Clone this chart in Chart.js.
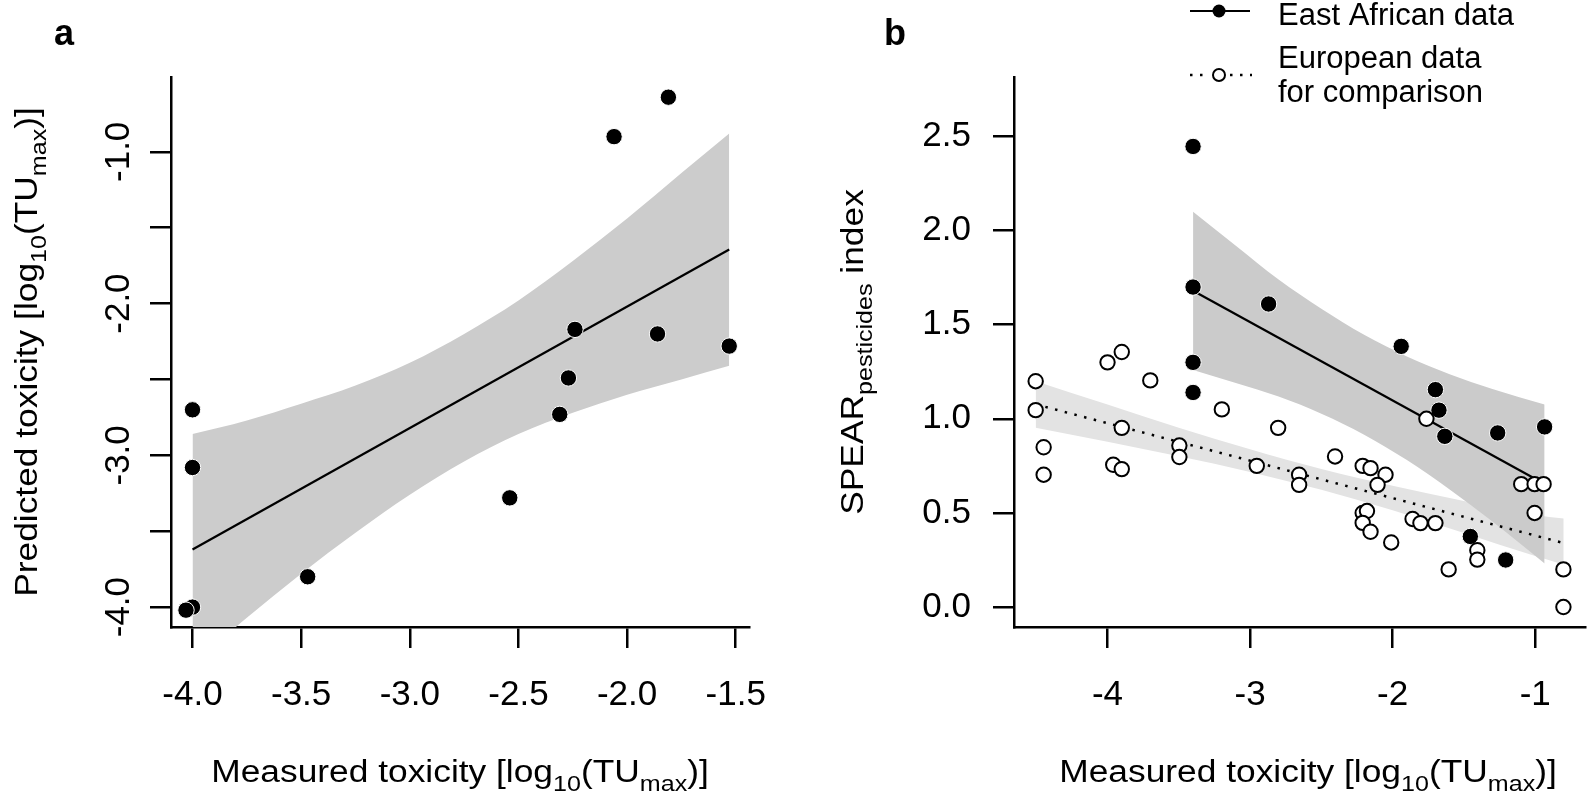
<!DOCTYPE html>
<html><head><meta charset="utf-8">
<script src="https://cdn.jsdelivr.net/npm/chart.js@4.4.1/dist/chart.umd.min.js"></script>
<style>
html,body{margin:0;padding:0;background:#fff;overflow:hidden}
#wrap{position:relative;width:1594px;height:792px;background:#fff}
.pane{position:absolute;top:0;height:792px}
</style></head><body>
<div id="wrap">
  <div class="pane" style="left:0;width:800px"><canvas id="ca"></canvas></div>
  <div class="pane" style="left:800px;width:794px"><canvas id="cb"></canvas></div>
</div>
<script>
// ---------- Panel a data ----------
const aMeasured  = [-1.81, -2.06, -2.24, -1.86, -1.53, -2.27, -4.00, -4.00, -2.31, -2.54, -3.47, -4.00, -4.03];
const aPredicted = [-0.64, -0.90, -2.17, -2.20, -2.28, -2.49, -2.70, -3.08, -2.73, -3.28, -3.80, -4.00, -4.02];
const aFitX = [-4.00, -1.53];
const aFitY = [-3.62, -1.644];
const aBandX     = [-4.00, -3.75, -3.50, -3.25, -3.00, -2.75, -2.50, -2.25, -2.00, -1.75, -1.53];
const aBandUpper = [-2.86, -2.77, -2.66, -2.54, -2.39, -2.20, -1.98, -1.72, -1.44, -1.14, -0.88];
const aBandLower = [-4.38, -4.07, -3.78, -3.51, -3.26, -3.04, -2.86, -2.72, -2.60, -2.50, -2.41];
const aXTicks  = [-4.0, -3.5, -3.0, -2.5, -2.0, -1.5];
const aXLabels = ['-4.0', '-3.5', '-3.0', '-2.5', '-2.0', '-1.5'];
const aYTicks  = [-4.0, -3.5, -3.0, -2.5, -2.0, -1.5, -1.0];
const aYLabels = ['-4.0', '', '-3.0', '', '-2.0', '', '-1.0'];

// ---------- Panel b data ----------
const eaX = [-3.40, -3.40, -2.87, -3.40, -1.94, -1.70, -3.40, -1.675, -1.634, -1.263, -0.934, -1.455, -1.207];
const eaY = [ 2.447, 1.70,  1.61,  1.30,  1.385, 1.155, 1.14,  1.046,  0.907,  0.925,  0.957,  0.375,  0.25];
const euX = [-4.504, -4.504, -4.448, -4.448, -4.00, -3.90, -3.70, -3.96, -3.90, -3.90, -3.496, -3.496, -3.198, -2.803,
             -2.953, -2.656, -2.656, -2.404, -2.21, -2.155, -2.05, -2.106, -2.21, -2.18, -2.21, -2.155, -2.01, -1.86,
             -1.805, -1.70, -1.763, -1.607, -1.406, -1.406, -1.098, -1.004, -0.941, -1.004, -0.802, -0.802];
const euY = [ 1.20, 1.046, 0.849, 0.703, 1.30, 1.355, 1.204, 0.756, 0.733, 0.952, 0.858, 0.797, 1.05, 0.952,
              0.75, 0.703, 0.649, 0.80, 0.75, 0.738, 0.703, 0.649, 0.50, 0.51, 0.447, 0.40, 0.343, 0.468,
              0.446, 0.446, 1.00, 0.20, 0.302, 0.252, 0.653, 0.653, 0.653, 0.50, 0.20, 0.00];
const eaFitX = [-3.40, -0.934];
const eaFitY = [1.68, 0.654];
const euFitX = [-4.504, -0.80];
const euFitY = [1.077, 0.340];
const eaBandX     = [-3.40, -3.10, -2.80, -2.50, -2.20, -1.90, -1.60, -1.30, -0.934];
const eaBandUpper = [ 2.10,  1.92,  1.74,  1.585, 1.446, 1.331, 1.237, 1.158, 1.076];
const eaBandLower = [ 1.26,  1.19,  1.118, 1.027, 0.916, 0.781, 0.625, 0.454, 0.232];
const euBandX     = [-4.504, -4.00, -3.50, -3.00, -2.50, -2.00, -1.50, -1.00, -0.80];
const euBandUpper = [ 1.20,   1.076, 0.953, 0.838, 0.733, 0.644, 0.564, 0.489, 0.470];
const euBandLower = [ 0.952,  0.878, 0.801, 0.718, 0.623, 0.514, 0.394, 0.271, 0.225];
const bXTicks  = [-4, -3, -2, -1];
const bXLabels = ['-4', '-3', '-2', '-1'];
const bYTicks  = [0, 0.5, 1.0, 1.5, 2.0, 2.5];
const bYLabels = ['0.0', '0.5', '1.0', '1.5', '2.0', '2.5'];
const legendLabels = ['East African data', ['European data', 'for comparison']];

// ---------- Titles ----------
const xTitleParts  = [['Measured toxicity [log', 0], ['10', 1], ['(TU', 0], ['max', 1], [')]', 0]];
const aYTitleParts = [['Predicted toxicity [log', 0], ['10', 1], ['(TU', 0], ['max', 1], [')]', 0]];
const bYTitleParts = [['SPEAR', 0], ['pesticides', 1], [' index', 0]];

const FONT = '"Liberation Sans", Arial, Helvetica, sans-serif';
Chart.defaults.font.family = FONT;
Chart.defaults.color = '#000';

const pts = (xs, ys) => xs.map((x, i) => ({x: x, y: ys[i]}));

function drawRich(ctx, parts, x, y, rot, size, stretch) {
  ctx.save();
  ctx.translate(x, y);
  ctx.rotate(rot);
  ctx.scale(stretch, 1);
  ctx.fillStyle = '#000';
  ctx.textBaseline = 'alphabetic';
  ctx.textAlign = 'left';
  const subSize = Math.round(size * 0.72);
  let total = 0;
  parts.forEach(p => { ctx.font = (p[1] ? subSize : size) + 'px ' + FONT; total += ctx.measureText(p[0]).width; });
  let cx = -total / 2;
  parts.forEach(p => {
    ctx.font = (p[1] ? subSize : size) + 'px ' + FONT;
    ctx.fillText(p[0], cx, p[1] ? size * 0.30 : 0);
    cx += ctx.measureText(p[0]).width;
  });
  ctx.restore();
}

function axisCommon(ticksArr) {
  return {
    type: 'linear',
    afterBuildTicks: s => { s.ticks = ticksArr.map(v => ({value: v})); },
    grid: {drawOnChartArea: false, drawTicks: true, tickLength: 21, color: '#000', lineWidth: 2.5},
    border: {display: true, color: '#000', width: 2.5},
    title: {display: false}
  };
}

function scaleX(min, max, ticksArr, labelsArr) {
  const o = axisCommon(ticksArr);
  o.min = min; o.max = max;
  o.ticks = {callback: (v, i) => labelsArr[i], font: {size: 35}, color: '#000', padding: 26,
             autoSkip: false, minRotation: 0, maxRotation: 0};
  o.afterFit = s => { s.height = 165; };
  return o;
}

// ---------- Chart a ----------
new Chart(document.getElementById('ca'), {
  type: 'scatter',
  data: {
    datasets: [
      {label: 'Data', data: pts(aMeasured, aPredicted), backgroundColor: '#000', borderColor: '#fff',
       borderWidth: 1, pointRadius: 8.2, pointHoverRadius: 8.2, order: 0, clip: false},
      {label: 'Fit', data: pts(aFitX, aFitY), showLine: true, borderColor: '#000', borderWidth: 2.2,
       pointRadius: 0, order: 1},
      {label: 'Band upper', data: pts(aBandX, aBandUpper), showLine: true, borderWidth: 0, borderColor: 'rgba(0,0,0,0)',
       backgroundColor: '#cccccc', fill: '+1', pointRadius: 0, cubicInterpolationMode: 'monotone', order: 2},
      {label: 'Band lower', data: pts(aBandX, aBandLower), showLine: true, borderWidth: 0, borderColor: 'rgba(0,0,0,0)',
       pointRadius: 0, cubicInterpolationMode: 'monotone', order: 3}
    ]
  },
  options: {
    responsive: true, maintainAspectRatio: false, animation: false, devicePixelRatio: 1,
    layout: {padding: {left: 0, top: 77, right: 51, bottom: 0}},
    plugins: {legend: {display: false}, tooltip: {enabled: false}},
    scales: {
      x: scaleX(-4.099, -1.439, aXTicks, aXLabels),
      y: Object.assign(axisCommon(aYTicks), {
        min: -4.131, max: -0.507,
        ticks: {callback: (v, i) => aYLabels[i], font: {size: 35}, color: '#000', padding: 1,
                autoSkip: false, minRotation: 90, maxRotation: 90, crossAlign: 'center'},
        afterFit: s => { s.width = 171; }
      })
    }
  },
  plugins: [{
    id: 'textA',
    afterDraw(chart) {
      const ctx = chart.ctx;
      drawRich(ctx, xTitleParts, 460, 782, 0, 31, 1.14);
      drawRich(ctx, aYTitleParts, 37, 352, -Math.PI / 2, 31, 1.14);
      ctx.save();
      ctx.font = 'bold 36px ' + FONT; ctx.fillStyle = '#000'; ctx.textAlign = 'left'; ctx.textBaseline = 'alphabetic';
      ctx.fillText('a', 54, 45);
      ctx.restore();
    }
  }]
});

// ---------- Chart b ----------
new Chart(document.getElementById('cb'), {
  type: 'scatter',
  data: {
    datasets: [
      {label: 'European data for comparison', data: pts(euX, euY), backgroundColor: '#fff', borderColor: '#000',
       borderWidth: 2, pointRadius: 7.2, pointHoverRadius: 7.2, order: 0, clip: false},
      {label: 'East African data', data: pts(eaX, eaY), backgroundColor: '#000', borderColor: '#fff',
       borderWidth: 1, pointRadius: 8.2, pointHoverRadius: 8.2, order: 1, clip: false},
      {label: 'East African fit', data: pts(eaFitX, eaFitY), showLine: true, borderColor: '#000', borderWidth: 2.2,
       pointRadius: 0, order: 2},
      {label: 'European fit', data: pts(euFitX, euFitY), showLine: true, borderColor: '#000', borderWidth: 2.5,
       borderDash: [2.5, 7.5], pointRadius: 0, order: 3},
      {label: 'East band upper', data: pts(eaBandX, eaBandUpper), showLine: true, borderWidth: 0, borderColor: 'rgba(0,0,0,0)',
       backgroundColor: '#cbcbcb', fill: '+1', pointRadius: 0, cubicInterpolationMode: 'monotone', order: 4},
      {label: 'East band lower', data: pts(eaBandX, eaBandLower), showLine: true, borderWidth: 0, borderColor: 'rgba(0,0,0,0)',
       pointRadius: 0, cubicInterpolationMode: 'monotone', order: 5},
      {label: 'Europe band upper', data: pts(euBandX, euBandUpper), showLine: true, borderWidth: 0, borderColor: 'rgba(0,0,0,0)',
       backgroundColor: '#e3e3e3', fill: '+1', pointRadius: 0, cubicInterpolationMode: 'monotone', order: 6},
      {label: 'Europe band lower', data: pts(euBandX, euBandLower), showLine: true, borderWidth: 0, borderColor: 'rgba(0,0,0,0)',
       pointRadius: 0, cubicInterpolationMode: 'monotone', order: 7}
    ]
  },
  options: {
    responsive: true, maintainAspectRatio: false, animation: false, devicePixelRatio: 1,
    layout: {padding: {left: 0, top: 77, right: 0, bottom: 0}},
    plugins: {legend: {display: false}, tooltip: {enabled: false}},
    scales: {
      x: scaleX(-4.656, -0.652, bXTicks, bXLabels),
      y: Object.assign(axisCommon(bYTicks), {
        min: -0.106, max: 2.816,
        ticks: {callback: (v, i) => bYLabels[i], font: {size: 35}, color: '#000', padding: 22, autoSkip: false},
        afterFit: s => { s.width = 214; }
      })
    }
  },
  plugins: [{
    id: 'textB',
    afterDraw(chart) {
      const ctx = chart.ctx;
      drawRich(ctx, xTitleParts, 508, 782, 0, 31, 1.14);
      drawRich(ctx, bYTitleParts, 63, 352, -Math.PI / 2, 31, 1.14);
      ctx.save();
      ctx.font = 'bold 36px ' + FONT; ctx.fillStyle = '#000'; ctx.textAlign = 'left'; ctx.textBaseline = 'alphabetic';
      ctx.fillText('b', 84, 45);
      // legend
      ctx.strokeStyle = '#000';
      ctx.lineWidth = 2.2;
      ctx.beginPath(); ctx.moveTo(390, 11); ctx.lineTo(450, 11); ctx.stroke();
      ctx.beginPath(); ctx.arc(419, 11, 6.5, 0, Math.PI * 2); ctx.fillStyle = '#000'; ctx.fill();
      ctx.setLineDash([2.5, 7.5]); ctx.lineWidth = 2.5;
      ctx.beginPath(); ctx.moveTo(390, 75); ctx.lineTo(410, 75); ctx.stroke();
      ctx.beginPath(); ctx.moveTo(430, 75); ctx.lineTo(452, 75); ctx.stroke();
      ctx.setLineDash([]); ctx.lineWidth = 2;
      ctx.beginPath(); ctx.arc(419, 75, 6, 0, Math.PI * 2); ctx.fillStyle = '#fff'; ctx.fill(); ctx.stroke();
      ctx.fillStyle = '#000';
      ctx.font = '31px ' + FONT;
      ctx.fillText(legendLabels[0], 478, 25);
      ctx.fillText(legendLabels[1][0], 478, 68);
      ctx.fillText(legendLabels[1][1], 478, 102);
      ctx.restore();
    }
  }]
});
</script>
</body></html>
